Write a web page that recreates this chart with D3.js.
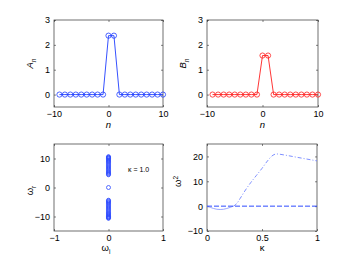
<!DOCTYPE html>
<html>
<head>
<meta charset="utf-8">
<script src="https://cdn.jsdelivr.net/npm/d3@7"></script>
<style>
  body { margin: 0; background: #fff; }
  svg { display: block; }
  text { font-family: "Liberation Sans", Arial, sans-serif; fill: #000; }
</style>
</head>
<body>
<svg id="chart" width="349" height="263"></svg>
<script>
// lattice sites and mode amplitudes
const nSites = [-9, -8, -7, -6, -5, -4, -3, -2, -1, 0, 1, 2, 3, 4, 5, 6, 7, 8, 9, 10];
const ampA = [0, 0, 0, 0, 0, 0, 0, 0, 0, 2.37, 2.37, 0, 0, 0, 0, 0, 0, 0, 0, 0];
const ampB = [0, 0, 0, 0, 0, 0, 0, 0, 0, 1.57, 1.57, 0, 0, 0, 0, 0, 0, 0, 0, 0];

// spectrum at kappa = 1.0
const omegaR = [10.6, 10.5, 10.3, 10.1, 9.9, 9.6, 9.3, 9.0, 8.7, 8.3, 7.9, 7.5, 7.1, 6.7, 6.3,
                5.9, 5.5, 5.2, 4.9, 4.6, 4.4,
                0,
                -4.4, -4.6, -4.9, -5.2, -5.5, -5.9, -6.3, -6.7, -7.1, -7.5, -7.9, -8.3, -8.7,
                -9.0, -9.3, -9.6, -9.9, -10.1, -10.3, -10.5, -10.6];
const omegaI = omegaR.map(() => 0);

// omega^2 versus kappa
const kappaZero = [0, 1];
const w2Zero = [0, 0];
const kappaLow = [0, 0.03, 0.06, 0.09, 0.12, 0.15, 0.18, 0.21, 0.24];
const w2Low = [0, -0.5, -0.95, -1.25, -1.35, -1.25, -0.95, -0.5, 0];
const kappaHigh = [0.24, 0.27, 0.30, 0.35, 0.40, 0.45, 0.50, 0.55, 0.60, 0.63, 0.70, 0.80, 0.90, 1.0];
const w2High = [0, 1.0, 3.0, 6.5, 9.6, 12.4, 15.2, 18.2, 20.5, 21.0, 20.6, 19.8, 19.0, 18.2];

const svg = d3.select("#chart");
const fmt = d => (d < 0 ? "\u2212" + Math.abs(d) : String(d));

function makeAxes(box, xDom, yDom, xTicks, yTicks) {
  const x = d3.scaleLinear().domain(xDom).range([box.x0, box.x1]);
  const y = d3.scaleLinear().domain(yDom).range([box.y1, box.y0]);
  const g = svg.append("g");
  const tl = 2;

  // tick marks inside on all four sides
  g.append("g").attr("transform", "translate(0," + box.y1 + ")")
    .call(d3.axisBottom(x).tickValues(xTicks).tickSize(-tl).tickPadding(4).tickFormat(fmt))
    .call(a => a.select(".domain").remove());
  g.append("g").attr("transform", "translate(0," + box.y0 + ")")
    .call(d3.axisTop(x).tickValues(xTicks).tickSize(-tl).tickFormat(""))
    .call(a => a.select(".domain").remove());
  g.append("g").attr("transform", "translate(" + box.x0 + ",0)")
    .call(d3.axisLeft(y).tickValues(yTicks).tickSize(-tl).tickPadding(4).tickFormat(fmt))
    .call(a => a.select(".domain").remove());
  g.append("g").attr("transform", "translate(" + box.x1 + ",0)")
    .call(d3.axisRight(y).tickValues(yTicks).tickSize(-tl).tickFormat(""))
    .call(a => a.select(".domain").remove());

  g.selectAll(".tick line").attr("stroke", "#333").attr("stroke-width", 0.6);
  g.selectAll(".tick text").attr("font-size", 9).attr("font-family", "Liberation Sans, Arial, sans-serif");

  svg.append("rect")
    .attr("x", box.x0).attr("y", box.y0)
    .attr("width", box.x1 - box.x0).attr("height", box.y1 - box.y0)
    .attr("fill", "none").attr("stroke", "#333").attr("stroke-width", 0.7);

  return { x, y, g };
}

function stemPlot(box, vals, color, label) {
  const ax = makeAxes(box, [-10, 10], [-0.5, 3], [-10, 0, 10], [0, 1, 2, 3]);
  const pts = nSites.map((n, i) => [n, vals[i]]);
  svg.append("path")
    .datum(pts)
    .attr("fill", "none").attr("stroke", color).attr("stroke-width", 0.9)
    .attr("d", d3.line().x(d => ax.x(d[0])).y(d => ax.y(d[1])));
  svg.append("g").selectAll("circle").data(pts).join("circle")
    .attr("cx", d => ax.x(d[0])).attr("cy", d => ax.y(d[1])).attr("r", 2.6)
    .attr("fill", "none").attr("stroke", color).attr("stroke-width", 0.8);

  const cx = (box.x0 + box.x1) / 2, cy = (box.y0 + box.y1) / 2;
  svg.append("text").attr("x", cx).attr("y", box.y1 + 21)
    .attr("text-anchor", "middle").attr("font-size", 9.5).attr("font-style", "italic").text("n");
  const t = svg.append("text")
    .attr("transform", "translate(" + (box.x0 - 21) + "," + cy + ") rotate(-90)")
    .attr("text-anchor", "middle").attr("font-size", 9.5).attr("font-style", "italic");
  t.append("tspan").text(label);
  t.append("tspan").attr("dy", 2.5).attr("font-size", 6.5).text("n");
}

const boxTL = { x0: 54, x1: 163, y0: 20, y1: 107 };
const boxTR = { x0: 207, x1: 318, y0: 20, y1: 107 };
const boxBL = { x0: 54, x1: 163, y0: 144, y1: 231 };
const boxBR = { x0: 207, x1: 317, y0: 144, y1: 231 };

stemPlot(boxTL, ampA, "#1f3dff", "A");
stemPlot(boxTR, ampB, "#ff1f1f", "B");

// spectrum panel
{
  const ax = makeAxes(boxBL, [-1, 1], [-15, 15], [-1, 0, 1], [-10, 0, 10]);
  svg.append("g").selectAll("circle").data(omegaR).join("circle")
    .attr("cx", (d, i) => ax.x(omegaI[i])).attr("cy", d => ax.y(d)).attr("r", 2)
    .attr("fill", "none").attr("stroke", "#2e4bff").attr("stroke-width", 0.8);
  svg.append("text").attr("x", 128).attr("y", 172).attr("font-size", 7).text("\u03ba = 1.0");

  const cy = (boxBL.y0 + boxBL.y1) / 2;
  const t = svg.append("text")
    .attr("transform", "translate(" + (boxBL.x0 - 21) + "," + (cy + 3) + ") rotate(-90)")
    .attr("text-anchor", "middle").attr("font-size", 9.5);
  t.append("tspan").text("\u03c9");
  t.append("tspan").attr("dy", 2.5).attr("font-size", 6.5).text("r");
  const tx = svg.append("text").attr("x", 106).attr("y", boxBL.y1 + 20)
    .attr("text-anchor", "middle").attr("font-size", 9.5);
  tx.append("tspan").text("\u03c9");
  tx.append("tspan").attr("dy", 2.5).attr("font-size", 6.5).text("i");
}

// omega^2 panel
{
  const ax = makeAxes(boxBR, [0, 1], [-10, 25], [0, 0.5, 1], [-10, 0, 10, 20]);
  const line = d3.line().x(d => ax.x(d[0])).y(d => ax.y(d[1])).curve(d3.curveMonotoneX);
  const zip = (a, b) => a.map((v, i) => [v, b[i]]);
  svg.append("path").datum(zip(kappaLow, w2Low))
    .attr("fill", "none").attr("stroke", "#8f9cff").attr("stroke-width", 0.9).attr("d", line);
  svg.append("path").datum(zip(kappaHigh, w2High))
    .attr("fill", "none").attr("stroke", "#6f82ff").attr("stroke-width", 0.9)
    .attr("stroke-dasharray", "4,2,1,2").attr("d", line);
  svg.append("path").datum(zip(kappaZero, w2Zero))
    .attr("fill", "none").attr("stroke", "#2e4bff").attr("stroke-width", 1)
    .attr("stroke-dasharray", "5,2").attr("d", line);

  const cy = (boxBR.y0 + boxBR.y1) / 2;
  const t = svg.append("text")
    .attr("transform", "translate(" + (boxBR.x0 - 26) + "," + (cy - 6) + ") rotate(-90)")
    .attr("text-anchor", "middle").attr("font-size", 9.5);
  t.append("tspan").text("\u03c9");
  t.append("tspan").attr("dy", -3).attr("font-size", 6.5).text("2");
  svg.append("text").attr("x", 262).attr("y", boxBR.y1 + 20)
    .attr("text-anchor", "middle").attr("font-size", 9.5).text("\u03ba");
}
</script>
</body>
</html>
